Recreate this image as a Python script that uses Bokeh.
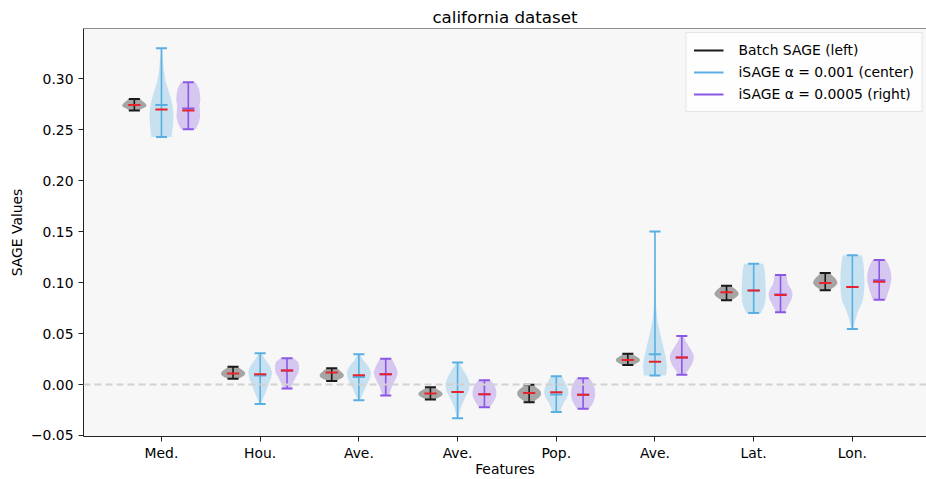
import numpy as np
from bokeh.plotting import figure
from bokeh.models import FixedTicker, Span, Legend, LegendItem, Range1d
from bokeh.embed import file_html
from bokeh.resources import INLINE

# ---------------- data ----------------
features = ["Med.", "Hou.", "Ave.", "Ave.", "Pop.", "Ave.", "Lat.", "Lon."]
y_ticks = [-0.05, 0.0, 0.05, 0.10, 0.15, 0.20, 0.25, 0.30]
y_tick_labels = ["\u22120.05", "0.00", "0.05", "0.10", "0.15", "0.20", "0.25", "0.30"]

# Batch SAGE (left)
batch_min = [0.269, 0.0056, 0.0036, -0.0147, -0.0173, 0.0193, 0.0827, 0.0925]
batch_max = [0.2804, 0.0174, 0.0160, -0.0026, -0.0003, 0.0303, 0.0970, 0.1095]
batch_mean = [0.2745, 0.0108, 0.0118, -0.0088, -0.0082, 0.0242, 0.0905, 0.0997]
batch_profile = [
    [0.35, 0.6, 0.85, 1.0, 1.0, 0.9, 0.75, 0.6, 0.5],
    [0.4, 0.7, 0.9, 1.0, 1.0, 0.9, 0.75, 0.55, 0.35],
    [0.35, 0.65, 0.9, 1.0, 1.0, 0.9, 0.75, 0.6, 0.4],
    [0.35, 0.6, 0.85, 1.0, 1.0, 0.9, 0.7, 0.5, 0.35],
    [0.35, 0.55, 0.8, 0.95, 1.0, 0.95, 0.8, 0.55, 0.35],
    [0.4, 0.7, 0.9, 1.0, 1.0, 0.9, 0.7, 0.5, 0.35],
    [0.4, 0.65, 0.85, 1.0, 1.0, 0.9, 0.75, 0.55, 0.4],
    [0.35, 0.6, 0.85, 1.0, 1.0, 0.9, 0.75, 0.55, 0.4],
]

# iSAGE alpha = 0.001 (center)
i1_min = [0.243, -0.019, -0.0154, -0.033, -0.027, 0.0088, 0.0703, 0.0546]
i1_max = [0.330, 0.0307, 0.0297, 0.0216, 0.0082, 0.1503, 0.1186, 0.1268]
i1_median = [0.2745, 0.0088, 0.0075, -0.0072, -0.0098, 0.0297, 0.0922, 0.0958]
i1_mean = [0.270, 0.0101, 0.0091, -0.0072, -0.0075, 0.0223, 0.0922, 0.0958]
i1_profile = [
    [0.84, 0.95, 1.0, 0.9, 0.65, 0.35, 0.2, 0.12, 0.05],
    [0.06, 0.28, 0.5, 0.68, 0.9, 1.0, 0.82, 0.42, 0.1],
    [0.1, 0.3, 0.5, 0.75, 0.95, 1.0, 0.75, 0.35, 0.1],
    [0.08, 0.18, 0.38, 0.65, 0.95, 1.0, 0.8, 0.45, 0.1],
    [0.3, 0.45, 0.6, 0.85, 1.0, 1.0, 0.85, 0.65, 0.45],
    [0.92, 1.0, 0.9, 0.72, 0.55, 0.38, 0.22, 0.14, 0.09, 0.07, 0.05, 0.045, 0.04,
     0.035, 0.03, 0.025, 0.02],
    [0.6, 0.85, 0.97, 1.0, 1.0, 0.97, 0.95, 0.9, 0.8],
    [0.08, 0.25, 0.5, 0.85, 0.97, 1.0, 0.98, 0.93, 0.8],
]

# iSAGE alpha = 0.0005 (right)
i2_min = [0.2507, -0.0039, -0.0108, -0.0222, -0.0238, 0.0095, 0.0709, 0.0833]
i2_max = [0.2967, 0.0258, 0.0252, 0.0042, 0.0062, 0.0477, 0.1075, 0.1222]
i2_median = [0.271, 0.0137, 0.0101, -0.0095, -0.0101, 0.0265, 0.0885, 0.1025]
i2_mean = [0.269, 0.0137, 0.0101, -0.0095, -0.0101, 0.0265, 0.0879, 0.1008]
i2_profile = [
    [0.6, 0.85, 0.98, 0.96, 0.93, 1.0, 0.97, 0.88, 0.6],
    [0.3, 0.42, 0.58, 0.72, 0.92, 1.0, 1.0, 0.92, 0.55],
    [0.28, 0.38, 0.52, 0.72, 0.9, 1.0, 0.88, 0.7, 0.5],
    [0.45, 0.65, 0.82, 0.95, 1.0, 0.97, 0.9, 0.75, 0.5],
    [0.5, 0.72, 0.88, 0.98, 1.0, 0.98, 0.9, 0.75, 0.55],
    [0.25, 0.55, 0.8, 0.97, 1.0, 0.8, 0.55, 0.3, 0.12],
    [0.35, 0.55, 0.75, 0.95, 1.0, 0.88, 0.62, 0.55, 0.5],
    [0.55, 0.68, 0.82, 0.92, 1.0, 1.0, 0.92, 0.78, 0.55],
]

# ---------------- styling ----------------
FONT = "DejaVu Sans"
HALF_W = 0.122      # half of the violin maximal width (x units)
CAP_W = 0.056       # half length of caps
BAR_W = 0.062       # half length of mean / median bars
RED = "#e8232b"
X0, X1 = -0.79, 7.751
Y0, Y1 = -0.051, 0.3495

groups = [
    dict(name="Batch SAGE (left)", off=-0.275, line="#1a1a1a", fill="#000000", fill_alpha=0.33,
         vmin=batch_min, vmax=batch_max, med=None, mean=batch_mean, prof=batch_profile),
    dict(name="iSAGE \u03b1 = 0.001 (center)", off=0.0, line="#5aafe2", fill="#5aafe2", fill_alpha=0.3,
         vmin=i1_min, vmax=i1_max, med=i1_median, mean=i1_mean, prof=i1_profile),
    dict(name="iSAGE \u03b1 = 0.0005 (right)", off=0.272, line="#8a58e4", fill="#8a58e4", fill_alpha=0.3,
         vmin=i2_min, vmax=i2_max, med=i2_median, mean=i2_mean, prof=i2_profile),
]

p = figure(width=926, height=479, x_range=Range1d(X0, X1), y_range=Range1d(Y0, Y1),
           output_backend="svg", toolbar_location=None, title="california dataset",
           min_border_left=83, min_border_right=0, min_border_top=28, min_border_bottom=0)

p.background_fill_color = "#f7f7f7"
p.border_fill_color = "white"
p.outline_line_color = None
p.grid.visible = False

p.title.text_font = FONT
p.title.text_font_size = "16.7px"
p.title.text_font_style = "normal"
p.title.text_color = "black"
p.title.align = "center"
p.title.standoff = 4

# zero reference line
p.add_layout(Span(location=0, dimension="width", line_color="#d2d2d2", line_width=2, line_dash="7 4"))
# top spine
p.add_layout(Span(location=Y1, dimension="width", line_color="#222222", line_width=1))

legend_items = []
for g in groups:
    xs, ys = [], []
    for i in range(len(features)):
        cx = i + g["off"]
        prof = np.array(g["prof"][i])
        lv = np.linspace(g["vmin"][i], g["vmax"][i], len(prof))
        right = cx + HALF_W * prof
        left = cx - HALF_W * prof
        xs.append(np.concatenate([right, left[::-1]]).tolist())
        ys.append(np.concatenate([lv, lv[::-1]]).tolist())
    p.patches(xs, ys, fill_color=g["fill"], fill_alpha=g["fill_alpha"], line_color=None)

    cx = np.arange(len(features)) + g["off"]
    vmin = np.array(g["vmin"])
    vmax = np.array(g["vmax"])
    p.segment(cx, vmin, cx, vmax, line_color=g["line"], line_width=1.6)
    p.segment(cx - CAP_W, vmin, cx + CAP_W, vmin, line_color=g["line"], line_width=2)
    p.segment(cx - CAP_W, vmax, cx + CAP_W, vmax, line_color=g["line"], line_width=2)
    if g["med"] is not None:
        med = np.array(g["med"])
        p.segment(cx - BAR_W, med, cx + BAR_W, med, line_color=g["line"], line_width=2)
    mean = np.array(g["mean"])
    p.segment(cx - BAR_W, mean, cx + BAR_W, mean, line_color=RED, line_width=2)

    # legend proxy (off-screen)
    r = p.line(x=[X0 - 10, X0 - 9], y=[0, 0], line_color=g["line"], line_width=2)
    legend_items.append(LegendItem(label=g["name"], renderers=[r]))

legend = Legend(items=legend_items, location="top_right")
legend.margin = 4
legend.padding = 7
legend.spacing = 2
legend.glyph_width = 30
legend.glyph_height = 20
legend.label_height = 20
legend.label_standoff = 15
legend.label_text_font = FONT
legend.label_text_font_size = "13.9px"
legend.label_text_color = "black"
legend.border_line_color = "#cccccc"
legend.border_line_width = 1
legend.background_fill_color = "white"
legend.background_fill_alpha = 0.85
p.add_layout(legend)

# axes
p.xaxis.ticker = FixedTicker(ticks=list(range(len(features))))
p.xaxis.major_label_overrides = {i: f for i, f in enumerate(features)}
p.yaxis.ticker = FixedTicker(ticks=y_ticks)
p.yaxis.major_label_overrides = {t: s for t, s in zip(y_ticks, y_tick_labels)}
p.xaxis.axis_label = "Features"
p.yaxis.axis_label = "SAGE Values"
for ax in (p.xaxis, p.yaxis):
    ax.axis_line_color = "#222222"
    ax.axis_line_width = 1
    ax.major_tick_line_color = "#222222"
    ax.major_tick_out = 5
    ax.major_tick_in = 0
    ax.minor_tick_line_color = None
    ax.major_label_text_font = FONT
    ax.major_label_text_font_size = "13.9px"
    ax.major_label_text_color = "black"
    ax.axis_label_text_font = FONT
    ax.axis_label_text_font_size = "13.9px"
    ax.axis_label_text_font_style = "normal"
    ax.axis_label_text_color = "black"
p.xaxis.major_label_standoff = 3
p.xaxis.axis_label_standoff = -3
p.yaxis.major_label_standoff = 5
p.yaxis.axis_label_standoff = 3

open("out.html", "w").write(file_html(p, INLINE))
